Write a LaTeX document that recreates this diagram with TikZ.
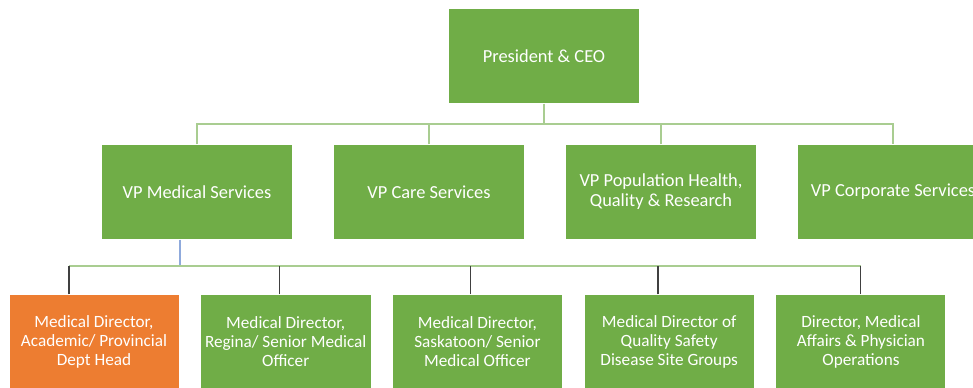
\documentclass[tikz,border=0pt]{standalone}
\usepackage{fontspec}
\setmainfont{Carlito}
\definecolor{boxGreen}{RGB}{112,173,71}
\definecolor{boxOrange}{RGB}{237,125,49}
\definecolor{lineGreen}{RGB}{169,205,145}
\definecolor{lineGray}{RGB}{64,64,64}
\definecolor{lineBlue}{RGB}{143,170,220}

\begin{document}
\begin{tikzpicture}[x=0.75pt, y=-0.75pt, node distance=174pt, line width=0.8pt, every node/.style={rectangle, fill=boxGreen, text=white, align=center, minimum width=142.5pt, minimum height=70.5pt, font=\fontsize{13.8}{15}\selectfont}]
        \useasboundingbox (0,0) rectangle (973,387);
        \clip (0,0) rectangle (973,387);
        \node (ceo) at (544,56) {President \& CEO};
        \node (vpMed) at (197,192) {VP Medical Services};
        \node (vpCare) [right of=vpMed] {VP Care Services};
        \node (vpPop) [right of=vpCare] {VP Population Health,\\Quality \& Research};
        \node (vpCorp) [right of=vpPop] {VP Corporate Services};

        \begin{scope}[node distance=143.8pt, every node/.append style={minimum width=126.75pt, font=\fontsize{12.9}{14.3}\selectfont}]
        \node (mdAcad) at (94,342) [fill=boxOrange] {Medical Director,\\Academic/ Provincial\\Dept Head};
        \node (mdRegina) [right of=mdAcad] {Medical Director,\\Regina/ Senior Medical\\Officer};
        \node (mdSask) [right of=mdRegina] {Medical Director,\\Saskatoon/ Senior\\Medical Officer};
        \node (mdQual) [right of=mdSask] {Medical Director of\\Quality Safety\\Disease Site Groups};
        \node (mdAffairs) [right of=mdQual] {Director, Medical\\Affairs \& Physician\\Operations};
        \end{scope}

        \coordinate (topBus) at (0,124);
        \coordinate (lowBus) at (0,266);
        \draw[lineGreen] (ceo.south) -- (ceo.south |- topBus);
        \draw[lineGreen] (vpMed.north) -- (vpMed.north |- topBus) -| (vpCorp.north);
        \draw[lineGreen] (vpCare.north) -- (vpCare.north |- topBus);
        \draw[lineGreen] (vpPop.north) -- (vpPop.north |- topBus);

        \draw[lineBlue] ([xshift=-12.75pt]vpMed.south) -- ([xshift=-12.75pt]vpMed.south |- lowBus);
        \draw[lineGreen] ([xshift=-18.75pt]mdAcad.north |- lowBus) -- (mdAffairs.north |- lowBus);
        \foreach \n/\s in {mdAcad/-18.75, mdRegina/-5, mdSask/-4.9, mdQual/-8.4, mdAffairs/0}
            \draw[lineGray] ([xshift=\s pt]\n.north) -- ([xshift=\s pt]\n.north |- lowBus);
    \end{tikzpicture}
\end{document}
